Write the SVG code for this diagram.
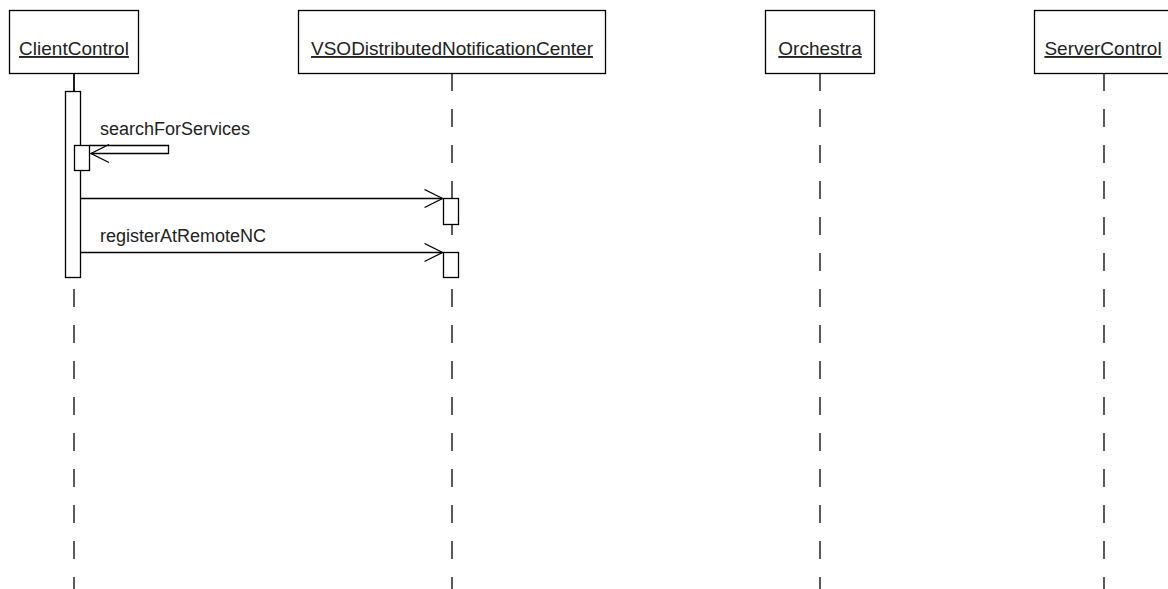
<svg xmlns="http://www.w3.org/2000/svg" width="1168" height="589" viewBox="0 0 1168 589">
<defs>
<style>
.box{fill:#fff;stroke:#000;stroke-width:1.3}
.name{font-family:"Liberation Sans",Arial,sans-serif;font-size:19px;fill:#222;text-anchor:middle;text-decoration:underline}
.lbl{font-family:"Liberation Sans",Arial,sans-serif;font-size:18px;fill:#222}
.life{stroke:#000;stroke-width:1.3;stroke-dasharray:18 18;fill:none}
.msg{stroke:#000;stroke-width:1.3;fill:none}
.act{fill:#fff;stroke:#000;stroke-width:1.3}
</style>
<marker id="open" markerWidth="22" markerHeight="22" refX="19" refY="10" orient="auto" markerUnits="userSpaceOnUse">
<path d="M1,1 L19,10 L1,19" fill="none" stroke="#000" stroke-width="1.3"/>
</marker>
</defs>
<rect width="1168" height="589" fill="#fff"/>
<g id="lifelines">
<line class="life" x1="74" y1="73" x2="74" y2="589"/>
<line class="life" x1="452" y1="73" x2="452" y2="589"/>
<line class="life" x1="820" y1="73" x2="820" y2="589"/>
<line class="life" x1="1104" y1="73" x2="1104" y2="589"/>
<line class="msg" x1="74" y1="73" x2="74" y2="91"/>
</g>
<g id="ClientControl">
<rect class="box" x="9.5" y="10.5" width="129" height="63"/>
<text class="name" x="74" y="55">ClientControl</text>
<rect class="act" x="65.5" y="91.5" width="15" height="186"/>
<rect class="act" x="74.5" y="145.5" width="15" height="25"/>
</g>
<g id="VSODistributedNotificationCenter">
<rect class="box" x="298.5" y="10.5" width="307" height="63"/>
<text class="name" x="452" y="55">VSODistributedNotificationCenter</text>
<rect class="act" x="443.5" y="198.5" width="15" height="26"/>
<rect class="act" x="443.5" y="252.5" width="15" height="25"/>
</g>
<g id="Orchestra">
<rect class="box" x="765.5" y="10.5" width="109" height="63"/>
<text class="name" x="820" y="55">Orchestra</text>
</g>
<g id="ServerControl">
<rect class="box" x="1034.5" y="10.5" width="140" height="63"/>
<text class="name" x="1103" y="55">ServerControl</text>
</g>
<g id="connectors">
<path class="msg" d="M89.5,145.5 H168.5 V153.5 H91" marker-end="url(#open)"/>
<text class="lbl" x="100" y="135">searchForServices</text>
<line class="msg" x1="80.5" y1="198.5" x2="442.5" y2="198.5" marker-end="url(#open)"/>
<line class="msg" x1="80.5" y1="252.5" x2="442.5" y2="252.5" marker-end="url(#open)"/>
<text class="lbl" x="100" y="242">registerAtRemoteNC</text>
</g>
</svg>
